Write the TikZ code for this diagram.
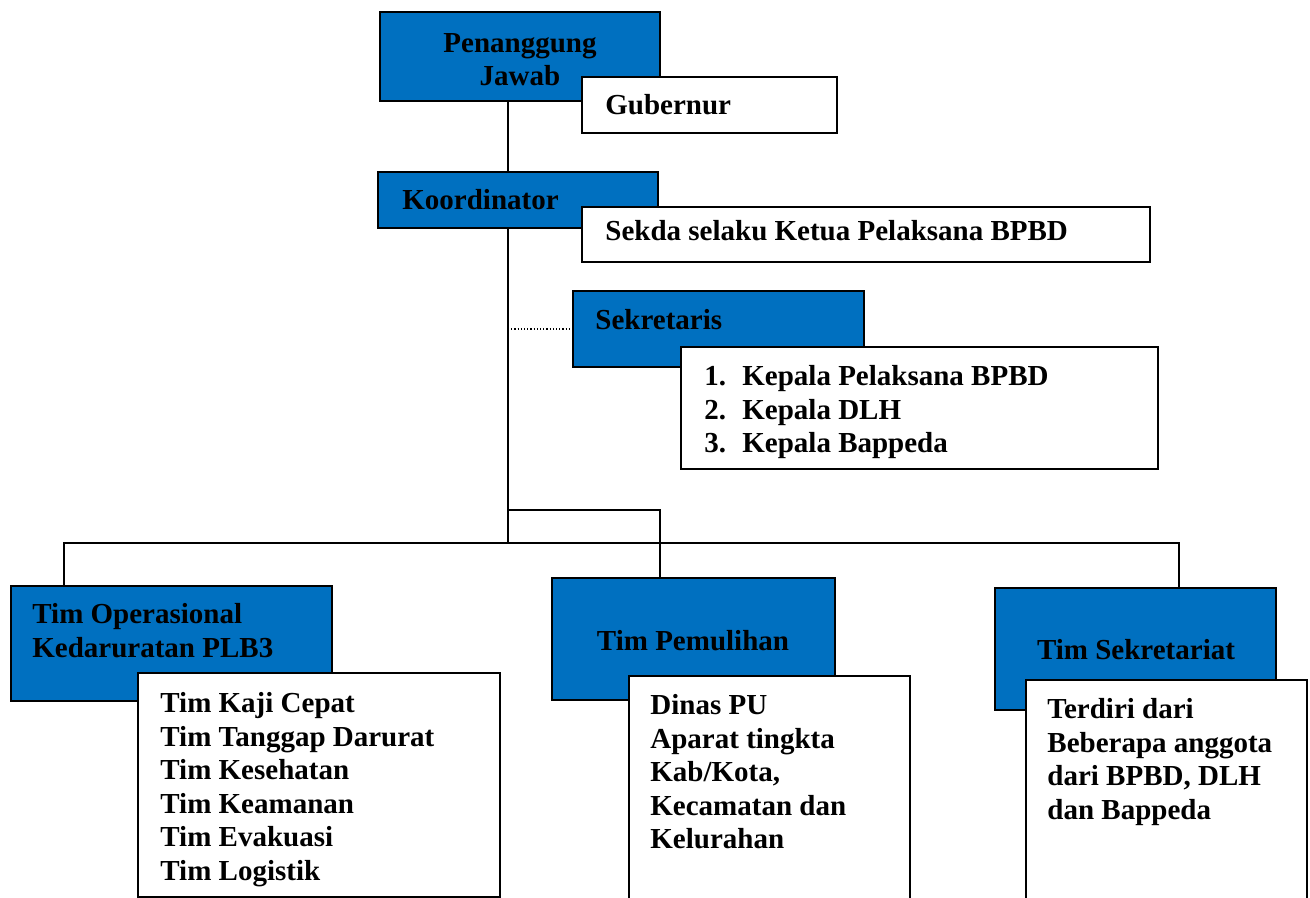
\documentclass[tikz,border=0pt]{standalone}
\usepackage{fontspec}
\setmainfont{Liberation Serif}
\usetikzlibrary{positioning}
\definecolor{boxblue}{RGB}{0,112,192}

\tikzset{
  bluebox/.style={draw=black, line width=1.2pt, fill=boxblue, anchor=north west,
    inner sep=0pt, outer sep=0pt},
  whitebox/.style={draw=black, line width=1.2pt, fill=white, anchor=north west,
    inner sep=0pt, outer sep=0pt},
  lbl/.style={font=\fontsize{14.5pt}{16.8pt}\selectfont\bfseries, inner sep=0pt, anchor=base west},
  lbls/.style={font=\fontsize{14.5pt}{16.8pt}\selectfont\bfseries, inner sep=0pt, anchor=north west, align=left},
  link/.style={draw=black, line width=0.9pt}
}

\begin{document}
\begin{tikzpicture}[x=0.5pt,y=-0.5pt]

  \path[use as bounding box] (0,0) rectangle (1310,898);
  \clip (0,0) rectangle (1310,898);

  \coordinate (j1) at (508,510);
  \coordinate (j2) at (508,543);
  \coordinate (k1) at (660,510);
  \coordinate (bl) at (64,543);
  \coordinate (br) at (1179,543);

  \node[bluebox, minimum width=140pt, minimum height=44.5pt] (pj) at (380,12) {};
  \node[whitebox, minimum width=127.5pt, minimum height=28pt] (gub) at (582,77) {};
  \node[lbls, align=center, anchor=north] (pj-t) at (520,33) {Penanggung\\Jawab};
  \node[lbl] (gub-t) at (605,115) {Gubernur};

  \node[bluebox, minimum width=140pt, minimum height=28pt] (koor) at (378,172) {};
  \node[whitebox, minimum width=284pt, minimum height=27.5pt] (sekda) at (582,207) {};
  \node[lbl] (koor-t) at (402,210) {Koordinator};
  \node[lbl] (sekda-t) at (605,241) {Sekda selaku Ketua Pelaksana BPBD};

  \node[bluebox, minimum width=145.5pt, minimum height=38pt] (sekr) at (573,291) {};
  \node[whitebox, minimum width=238.5pt, minimum height=61pt] (sekrl) at (681,347) {};
  \node[lbl] (sekr-t) at (595,329) {Sekretaris};
  \node[lbls] (sekrl-t) at (704,365) {\makebox[19pt][l]{1.}Kepala Pelaksana BPBD\\
    \makebox[19pt][l]{2.}Kepala DLH\\ \makebox[19pt][l]{3.}Kepala Bappeda};

  \node[bluebox, minimum width=160.5pt, minimum height=57.5pt] (ops) at (11,586) {};
  \node[whitebox, minimum width=181pt, minimum height=112pt] (opsl) at (138,673) {};
  \node[lbls] (ops-t) at (32,603) {Tim Operasional\\Kedaruratan PLB3};
  \node[lbls] (opsl-t) at (160,692) {Tim Kaji Cepat\\Tim Tanggap Darurat\\Tim Kesehatan\\
    Tim Keamanan\\Tim Evakuasi\\Tim Logistik};

  \node[bluebox, minimum width=141.5pt, minimum height=61pt] (pem) at (552,578) {};
  \node[whitebox, minimum width=140.5pt, minimum height=125pt] (peml) at (629,676) {};
  \node[lbl, anchor=base] (pem-t) at (693,650) {Tim Pemulihan};
  \node[lbls] (peml-t) at (650,694) {Dinas PU\\Aparat tingkta\\Kab/Kota,\\
    Kecamatan dan\\Kelurahan};

  \node[bluebox, minimum width=140.5pt, minimum height=61pt] (sek) at (995,588) {};
  \node[whitebox, minimum width=140.5pt, minimum height=125pt] (sekl) at (1026,680) {};
  \node[lbl, anchor=base] (sek-t) at (1136,659) {Tim Sekretariat};
  \node[lbls] (sekl-t) at (1047,698) {Terdiri dari\\Beberapa anggota\\dari BPBD, DLH\\
    dan Bappeda};

  \draw[link] (pj.south -| j1) -- (koor.north -| j1);
  \draw[link] (koor.south -| j1) -- (j2);
  \draw[densely dotted, line width=0.6pt] (sekr.west -| j1) -- (sekr.west);
  \draw[link] (j1) -- (k1) -- (k1 |- pem.north);
  \draw[link] (bl |- ops.north) -- (bl) -- (br) -- (br |- sek.north);

\end{tikzpicture}
\end{document}
